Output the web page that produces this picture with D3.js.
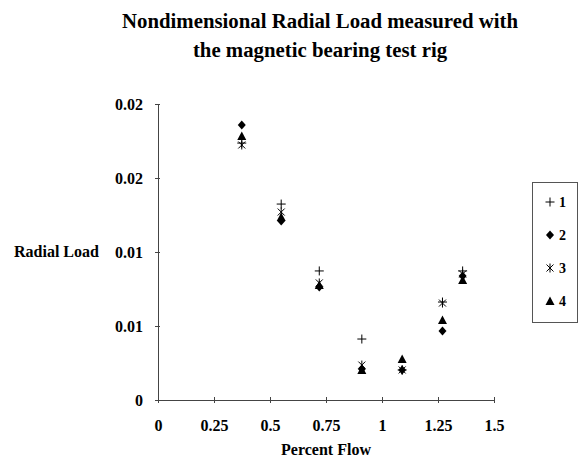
<!DOCTYPE html>
<html>
<head>
<meta charset="utf-8">
<script src="https://cdn.jsdelivr.net/npm/d3@7"></script>
<style>
  body { margin: 0; background: #fff; }
  svg { display: block; font-family: "Liberation Serif", "Times New Roman", serif; }
</style>
</head>
<body>
<svg id="chart" width="582" height="463"></svg>
<script>
// ---- data ----
const flow = [0.374, 0.55, 0.72, 0.91, 1.09, 1.27, 1.36];
const series1 = [0.01736, 0.01324, 0.00872, 0.00412, 0.00203, 0.00662, 0.00872];
const series2 = [0.01858, 0.01209, 0.00764, 0.00210, 0.00203, 0.00466, 0.00838];
const series3 = [0.01723, 0.01270, 0.00791, 0.00236, 0.00203, 0.00655, 0.00851];
const series4 = [0.01784, 0.01236, 0.00777, 0.00203, 0.00277, 0.00541, 0.00811];
const seriesNames = ["1", "2", "3", "4"];
const xTicks = [0, 0.25, 0.5, 0.75, 1, 1.25, 1.5];
const xTickLabels = ["0", "0.25", "0.5", "0.75", "1", "1.25", "1.5"];
const yTicks = [0, 0.005, 0.01, 0.015, 0.02];
const yTickLabels = ["0", "0.01", "0.01", "0.02", "0.02"];

const svg = d3.select("#chart");
const x = d3.scaleLinear().domain([0, 1.5]).range([158, 494]);
const y = d3.scaleLinear().domain([0, 0.02]).range([400, 104]);
const axisColor = "#444";
const ink = "#000";

// title
const title = svg.append("text").attr("text-anchor", "middle")
  .attr("font-weight", "bold").attr("font-size", 20.8).attr("fill", ink);
title.append("tspan").attr("x", 320).attr("y", 28).text("Nondimensional Radial Load measured with");
title.append("tspan").attr("x", 320).attr("y", 57).text("the magnetic bearing test rig");

// axes
const xAxis = d3.axisBottom(x).tickValues(xTicks).tickSize(3)
  .tickFormat((d, i) => xTickLabels[i]);
const gx = svg.append("g").attr("transform", `translate(0,${y(0)})`).call(xAxis);
gx.select(".domain").attr("stroke", axisColor);
gx.selectAll(".tick line").attr("stroke", axisColor).attr("y1", -3).attr("y2", 3);
gx.selectAll(".tick text").attr("y", 20).attr("font-size", 16).attr("font-weight", "bold")
  .attr("font-family", "Liberation Serif").attr("fill", ink);

const yAxis = d3.axisLeft(y).tickValues(yTicks).tickSize(3)
  .tickFormat((d, i) => yTickLabels[i]);
const gy = svg.append("g").attr("transform", `translate(${x(0)},0)`).call(yAxis);
gy.select(".domain").attr("stroke", axisColor);
gy.selectAll(".tick line").attr("stroke", axisColor).attr("x1", -3).attr("x2", 2);
gy.selectAll(".tick text").attr("x", -15).attr("font-size", 16).attr("font-weight", "bold")
  .attr("font-family", "Liberation Serif").attr("fill", ink);

// axis titles
svg.append("text").attr("x", 14).attr("y", 257).attr("font-weight", "bold")
  .attr("font-size", 16).attr("fill", ink).text("Radial Load");
svg.append("text").attr("x", 326).attr("y", 455).attr("text-anchor", "middle")
  .attr("font-weight", "bold").attr("font-size", 16).attr("fill", ink).text("Percent Flow");

// markers
function drawMarker(g, type) {
  if (type === 0) {
    g.append("path").attr("d", "M-4.5,0H4.5M0,-4.5V4.5").attr("stroke", ink).attr("stroke-width", 1).attr("fill", "none");
  } else if (type === 1) {
    g.append("path").attr("d", "M0,-4.5L4,0L0,4.5L-4,0Z").attr("fill", ink);
  } else if (type === 2) {
    g.append("path").attr("d", "M-3.5,-3.5L3.5,3.5M3.5,-3.5L-3.5,3.5M0,-4.5V4.5").attr("stroke", ink).attr("stroke-width", 1).attr("fill", "none");
  } else {
    g.append("path").attr("d", "M0,-4.5L4.5,4L-4.5,4Z").attr("fill", ink);
  }
}

const allSeries = [series1, series2, series3, series4];
allSeries.forEach((vals, si) => {
  const grp = svg.append("g");
  vals.forEach((v, i) => {
    const g = grp.append("g").attr("transform", `translate(${x(flow[i])},${y(v)})`);
    drawMarker(g, si);
  });
});

// legend
const lg = svg.append("g");
lg.append("rect").attr("x", 532.5).attr("y", 182.5).attr("width", 45).attr("height", 140)
  .attr("fill", "#fff").attr("stroke", "#555").attr("stroke-width", 1);
seriesNames.forEach((name, i) => {
  const yy = 202 + i * 33;
  const g = lg.append("g").attr("transform", `translate(550,${yy})`);
  drawMarker(g, i);
  lg.append("text").attr("x", 559).attr("y", yy + 5).attr("font-size", 14)
    .attr("font-weight", "bold").attr("fill", ink).text(name);
});
</script>
</body>
</html>
